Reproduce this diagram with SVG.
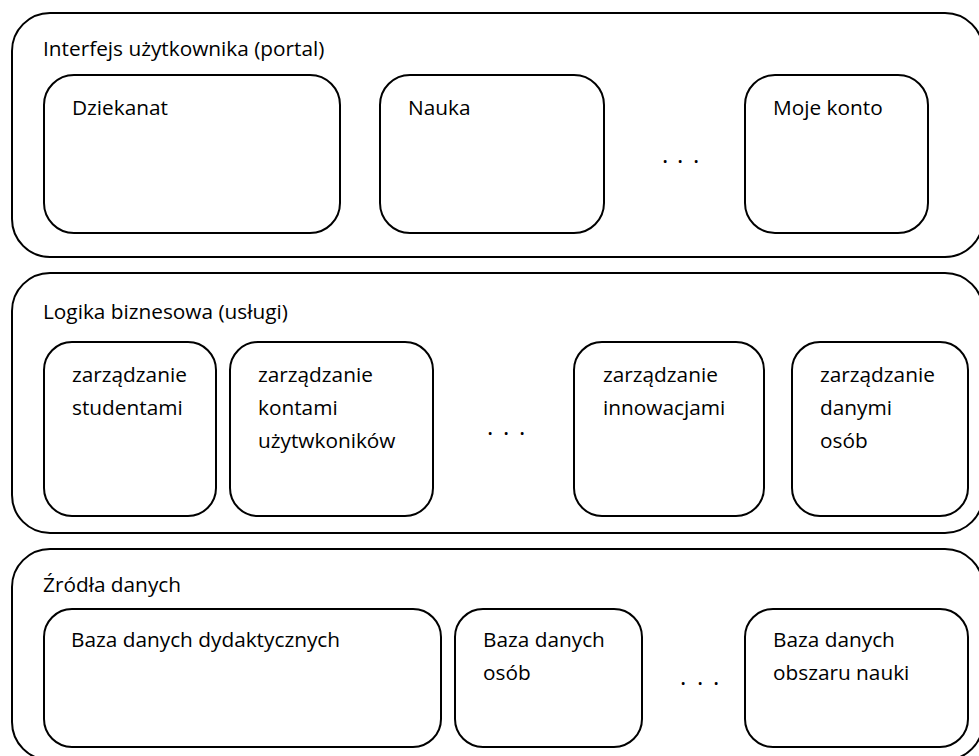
<svg xmlns="http://www.w3.org/2000/svg" width="979" height="756" viewBox="0 0 979 756">
<style>
  .outer { fill: #fff; stroke: #000; stroke-width: 2; }
  .inner { fill: #fff; stroke: #000; stroke-width: 2; }
  text { font-family: "Open Sans", "Noto Sans", "Liberation Sans", sans-serif; font-size: 20.8px; fill: #000; }
  .dots { font-size: 24px; }
</style>
<rect width="979" height="756" fill="#fff"/>
<g id="layer-ui">
  <rect class="outer" x="12" y="13" width="971" height="244" rx="38" ry="38"/>
  <text x="43" y="56">Interfejs użytkownika (portal)</text>
</g>
<g id="node-dziekanat">
  <rect class="inner" x="44" y="75" width="296" height="158" rx="30" ry="30"/>
  <text x="72" y="115">Dziekanat</text>
</g>
<g id="node-nauka">
  <rect class="inner" x="380" y="75" width="224" height="158" rx="30" ry="30"/>
  <text x="408" y="115">Nauka</text>
</g>
<g id="dots-ui">
  <text class="dots" x="662 670 677 685 693" y="162.5">. . .</text>
</g>
<g id="node-moje-konto">
  <rect class="inner" x="745" y="75" width="183" height="158" rx="30" ry="30"/>
  <text x="773" y="115">Moje konto</text>
</g>

<g id="layer-logic">
  <rect class="outer" x="12" y="273" width="971" height="260" rx="38" ry="38"/>
  <text x="43" y="319">Logika biznesowa (usługi)</text>
</g>
<g id="node-studenci">
  <rect class="inner" x="44" y="342" width="172" height="174" rx="28" ry="28"/>
  <text x="72" y="382">zarządzanie</text>
  <text x="72" y="415">studentami</text>
</g>
<g id="node-konta">
  <rect class="inner" x="230" y="342" width="203" height="174" rx="28" ry="28"/>
  <text x="258" y="382">zarządzanie</text>
  <text x="258" y="415">kontami</text>
  <text x="258" y="448">użytwkoników</text>
</g>
<g id="dots-logic">
  <text class="dots" x="487 495 503 511 519" y="434.5">. . .</text>
</g>
<g id="node-innowacje">
  <rect class="inner" x="574" y="342" width="190" height="174" rx="28" ry="28"/>
  <text x="603" y="382">zarządzanie</text>
  <text x="603" y="415">innowacjami</text>
</g>
<g id="node-osoby">
  <rect class="inner" x="792" y="342" width="176" height="174" rx="28" ry="28"/>
  <text x="820" y="382">zarządzanie</text>
  <text x="820" y="415">danymi</text>
  <text x="820" y="448">osób</text>
</g>

<g id="layer-data">
  <rect class="outer" x="12" y="549" width="971" height="211" rx="38" ry="38"/>
  <text x="43" y="592">Źródła danych</text>
</g>
<g id="node-db-dydaktyka">
  <rect class="inner" x="44" y="609" width="397" height="138" rx="28" ry="28"/>
  <text x="71" y="647">Baza danych dydaktycznych</text>
</g>
<g id="node-db-osoby">
  <rect class="inner" x="455" y="609" width="187" height="138" rx="28" ry="28"/>
  <text x="483" y="647">Baza danych</text>
  <text x="483" y="680">osób</text>
</g>
<g id="dots-data">
  <text class="dots" x="680 688 697 705 713" y="684.5">. . .</text>
</g>
<g id="node-db-nauka">
  <rect class="inner" x="745" y="609" width="223" height="138" rx="28" ry="28"/>
  <text x="773" y="647">Baza danych</text>
  <text x="773" y="680">obszaru nauki</text>
</g>
<g id="connectors"></g>
</svg>
